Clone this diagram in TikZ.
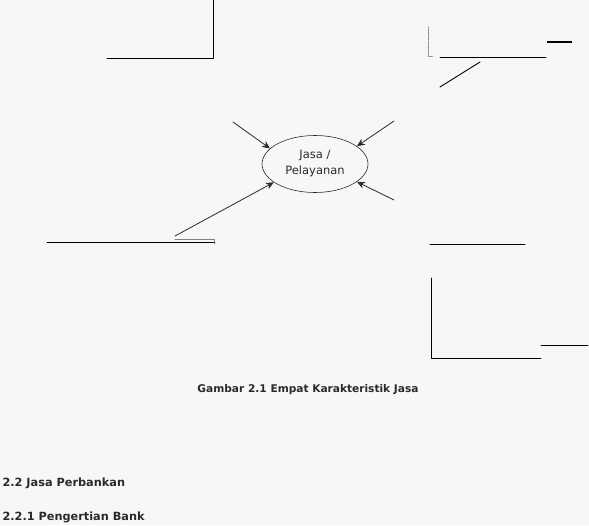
\documentclass[tikz,border=0pt]{standalone}
\usepackage{fontspec}
\setmainfont{DejaVu Sans}
\usetikzlibrary{arrows.meta,positioning,shapes.geometric}
\definecolor{pagebg}{HTML}{F7F7F7}
\definecolor{inkgray}{HTML}{2A2A2A}

\begin{document}
\begin{tikzpicture}[x=1pt,y=-1pt,line cap=round,line join=round,
    frameline/.style={draw=black,line width=0.9pt},
    inarrow/.style={-{Stealth[length=8pt,width=7pt]},line width=0.8pt,draw=inkgray},
    heading/.style={anchor=west,font=\bfseries\fontsize{11.3}{13}\selectfont,text=inkgray}]
  \fill[pagebg] (0,0) rectangle (589,525);
  \useasboundingbox (0,0) rectangle (589,525);

  % loose frame pieces
  \draw[frameline] (107,58) -- (213,58) -- (213,0);
  \draw[densely dotted,gray,line width=0.7pt] (428,27) -- (428,56) -- (433,56);
  \draw[frameline] (440,57) -- (546,57);
  \draw[black,line width=2.6pt,line cap=butt] (547,42) -- (572,42);
  \draw[frameline] (440,87) -- (480,62);
  \draw[frameline] (47,242) -- (215,242);
  \draw[gray,line width=0.6pt] (175,239) -- (214,239) -- (214,244);
  \draw[frameline] (430,244) -- (525,244);
  \draw[frameline] (431,278) -- (431,358) -- (541,358);
  \draw[frameline] (541,345) -- (588,345);

  % centre
  \node[draw=inkgray,line width=0.6pt,ellipse,minimum width=106pt,minimum height=57pt,
        inner sep=0pt,align=center,font=\fontsize{11.5}{16}\selectfont,text=inkgray]
        (jasa) at (315,164) {Jasa /\\Pelayanan};

  \coordinate (ul) at (233,122);
  \coordinate (ur) at (394,121);
  \coordinate (lr) at (394,200);
  \coordinate (ll) at (175,236);
  \draw[inarrow] (ul) -- (jasa.161);
  \draw[inarrow] (ur) -- (jasa.23);
  \draw[inarrow] (lr) -- (jasa.337);
  \draw[inarrow] (ll) -- (jasa.204);

  % captions
  \node[font=\bfseries\fontsize{10.6}{12}\selectfont,text=inkgray] (caption) at (308,390)
        {Gambar 2.1 Empat Karakteristik Jasa};
  \node[heading] (sec) at (-1,483) {2.2 Jasa Perbankan};
  \node[heading] (subsec) at (-1,517) {2.2.1 Pengertian Bank};
\end{tikzpicture}
\end{document}
